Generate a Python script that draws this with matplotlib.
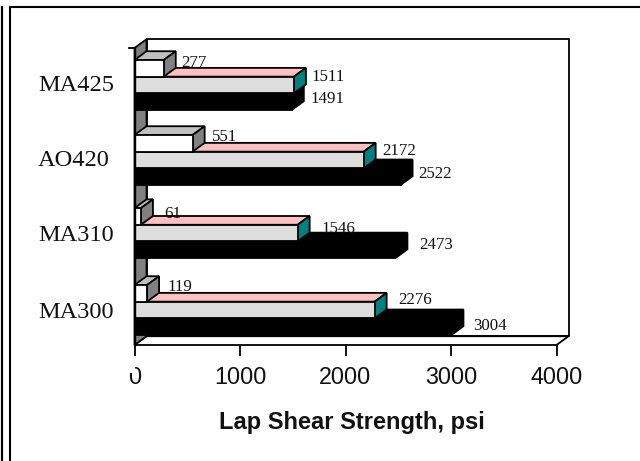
"""
Lap shear strength by alloy, drawn as fake 3D horizontal bars.
"""

import matplotlib
matplotlib.use("Agg")
import matplotlib.pyplot as plt
from matplotlib.patches import Polygon, Rectangle

# bottom row first
ALLOYS = ["MA300", "MA310", "AO420", "MA425"]
WHITE_VALUES = [119, 61, 551, 277]
GREY_VALUES = [2276, 1546, 2172, 1511]
BLACK_VALUES = [3004, 2473, 2522, 1491]
X_TICKS = [0, 1000, 2000, 3000, 4000]

# pixel nudges of the value labels from the end of the bar front, same order
WHITE_NUDGE = [(20, -6), (23, -2), (19, -6), (18, -5)]
GREY_NUDGE = [(24, -10), (24, -4), (19, -9), (18, -8)]
BLACK_NUDGE = [(22, -1), (24, -5), (18, -3), (19, -3)]

WIDTH, HEIGHT = 640, 461
DEPTH_X = 114.0  # psi
DEPTH_Y = 0.117  # rows
BAR_H = 0.222
ROW_CENTRES = [0, 1.025, 2, 3]
LABEL_ROWS = [0, 1.025, 2.025, 3.03]


def face(ax, points, color):
    ax.add_patch(Polygon(points, closed=True, facecolor=color, edgecolor="k",
                         linewidth=1.3, clip_on=False, joinstyle="miter"))


def bar_3d(ax, value, bottom, front, top, side):
    """Draw one extruded bar, front face through barh and the rest as faces."""
    upper = bottom + BAR_H
    face(ax, [(0, upper), (DEPTH_X, upper + DEPTH_Y),
              (value + DEPTH_X, upper + DEPTH_Y), (value, upper)], top)
    face(ax, [(value, bottom), (value + DEPTH_X, bottom + DEPTH_Y),
              (value + DEPTH_X, upper + DEPTH_Y), (value, upper)], side)
    ax.barh(bottom, value, BAR_H, align="edge", color=front, edgecolor="k",
            linewidth=1.3, clip_on=False)


def value_label(ax, value, y, nudge):
    ax.annotate(str(value), (value, y), xytext=(nudge[0] * 0.72, -nudge[1] * 0.72),
                textcoords="offset points", family="Liberation Serif",
                fontsize=12.2, color="#111111", va="center", ha="left",
                annotation_clip=False, zorder=8)


fig = plt.figure(figsize=(WIDTH / 100, HEIGHT / 100), dpi=100)
ax = fig.add_axes([134.5 / WIDTH, 1 - 345 / HEIGHT, 422 / WIDTH, 297 / HEIGHT])
ax.set_xlim(0, 4000)
ax.set_ylim(-0.467, 3.493)
y_lo, y_hi = ax.get_ylim()
ax.patch.set_visible(False)
for spine in ax.spines.values():
    spine.set_visible(False)

# walls and floor
face(ax, [(DEPTH_X, y_lo + DEPTH_Y), (DEPTH_X, y_hi + DEPTH_Y),
          (4000 + DEPTH_X, y_hi + DEPTH_Y), (4000 + DEPTH_X, y_lo + DEPTH_Y)], "white")
face(ax, [(0, y_lo), (DEPTH_X, y_lo + DEPTH_Y),
          (4000 + DEPTH_X, y_lo + DEPTH_Y), (4000, y_lo)], "white")
face(ax, [(0, y_lo), (0, y_hi), (DEPTH_X, y_hi + DEPTH_Y),
          (DEPTH_X, y_lo + DEPTH_Y)], "#808080")

for row in range(len(ALLOYS)):
    centre = ROW_CENTRES[row]
    black_y = centre - 1.5 * BAR_H
    grey_y = centre - 0.5 * BAR_H
    white_y = centre + 0.5 * BAR_H
    bar_3d(ax, BLACK_VALUES[row], black_y, "k", "k", "k")
    bar_3d(ax, GREY_VALUES[row], grey_y, "#dddddd", "#ffc0c0", "#008080")
    bar_3d(ax, WHITE_VALUES[row], white_y, "white", "#c0c0c0", "#808080")
    value_label(ax, WHITE_VALUES[row], white_y + BAR_H / 2, WHITE_NUDGE[row])
    value_label(ax, GREY_VALUES[row], grey_y + BAR_H / 2, GREY_NUDGE[row])
    value_label(ax, BLACK_VALUES[row], black_y + BAR_H / 2, BLACK_NUDGE[row])

ax.set_yticks(LABEL_ROWS, ALLOYS, family="Liberation Serif", fontsize=17.6,
              color="#111111", ha="left", va="center_baseline")
ax.tick_params(axis="y", length=0, pad=69.5)
ax.set_xticks(X_TICKS, [str(v) for v in X_TICKS], family="Liberation Sans",
              fontsize=16.8, color="#111111")
ax.tick_params(axis="x", length=8, width=1.3, pad=7)
ax.set_xlabel("Lap Shear Strength, psi", family="Liberation Sans", fontsize=17,
              fontweight="bold", labelpad=16, color="#111111", x=0.514)
ax.plot([0, 0], [y_lo, y_hi], color="k", lw=1, clip_on=False, zorder=7)
ax.plot([-55, 0], [y_hi, y_hi], color="k", lw=1.3, clip_on=False, zorder=7)

# upper left of the 0 label is hidden in the original
fig.add_artist(Rectangle((124 / WIDTH, 1 - 373 / HEIGHT), 10.5 / WIDTH, 12 / HEIGHT,
                         transform=fig.transFigure, facecolor="white",
                         edgecolor="none", zorder=5))

# page frame lines
fig.add_artist(Rectangle((10 / WIDTH, -0.1), 1, 0.1 + 1 - 7 / HEIGHT,
                         transform=fig.transFigure, fill=False, edgecolor="k",
                         linewidth=1.5))
fig.add_artist(Rectangle((2 / WIDTH, -0.1), 0, 0.1 + 1 - 6 / HEIGHT,
                         transform=fig.transFigure, fill=False, edgecolor="k",
                         linewidth=1.5))

plt.savefig("out.png", dpi=100)
